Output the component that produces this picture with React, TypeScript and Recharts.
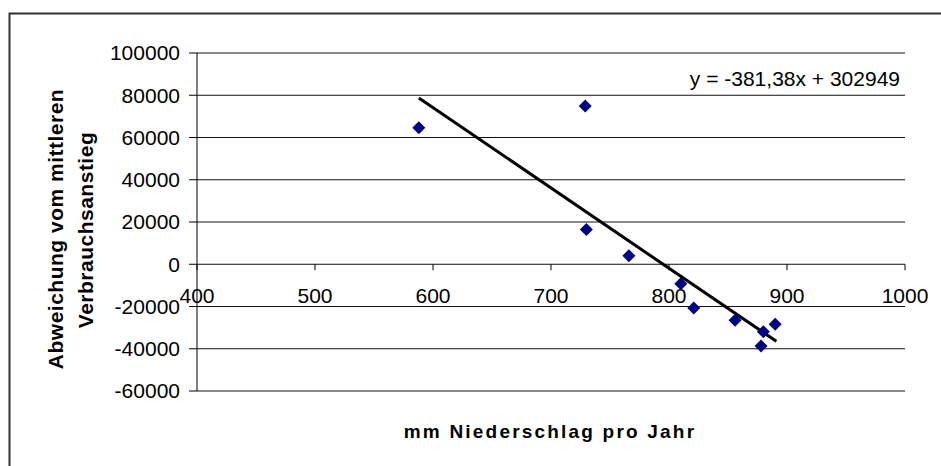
import React from 'react';
import { ScatterChart, Scatter, XAxis, YAxis, CartesianGrid, ReferenceDot } from 'recharts';

const precipitation = [588, 729, 730, 766, 810, 821, 856, 880, 878, 890];
const deviation = [64600, 74900, 16400, 4000, -9200, -20700, -26500, -32000, -38700, -28400];

const trendX = [588, 891];
const trendY = [78700, -36500];

const xTicks = [400, 500, 600, 700, 800, 900, 1000];
const yTicks = [-60000, -40000, -20000, 0, 20000, 40000, 60000, 80000, 100000];

const equationText = 'y = -381,38x + 302949';
const xTitle = 'mm Niederschlag pro Jahr';
const yTitle1 = 'Abweichung vom mittleren';
const yTitle2 = 'Verbrauchsanstieg';

const points = precipitation.map((x, i) => ({ x, y: deviation[i] }));
const trend = trendX.map((x, i) => ({ x, y: trendY[i] }));

const FONT = '"Liberation Sans", Arial, sans-serif';

const Diamond = (props: any) => {
  const { cx, cy } = props;
  if (cx == null || cy == null) return <g />;
  const r = 6.5;
  return (
    <polygon
      points={`${cx},${cy - r} ${cx + r},${cy} ${cx},${cy + r} ${cx - r},${cy}`}
      fill="#000080"
    />
  );
};

const makeXTick = (v: number) => (props: any) => {
  const { cx, cy } = props;
  if (cx == null || cy == null) return <g />;
  return (
    <g>
      <line x1={cx} y1={cy} x2={cx} y2={cy + 6} stroke="#000" strokeWidth={1} />
      <text x={cx} y={cy + 39} textAnchor="middle" fontSize={21} fontFamily={FONT} fill="#000">
        {v}
      </text>
    </g>
  );
};

export default function App() {
  return (
    <div style={{ position: 'absolute', left: 0, top: 0, width: 941, height: 466, background: '#fff' }}>
      <ScatterChart
        width={941}
        height={466}
        margin={{ top: 53, right: 36, bottom: 75, left: 97 }}
      >
        <CartesianGrid vertical={false} stroke="#111" strokeWidth={1} />
        <XAxis
          type="number"
          dataKey="x"
          domain={[400, 1000]}
          ticks={xTicks}
          hide
        />
        <YAxis
          type="number"
          dataKey="y"
          domain={[-60000, 100000]}
          ticks={yTicks}
          width={100}
          interval={0}
          tickSize={8}
          tickMargin={9}
          axisLine={{ stroke: '#000', strokeWidth: 1 }}
          tickLine={{ stroke: '#000', strokeWidth: 1 }}
          tick={{ fontSize: 21, fontFamily: FONT, fill: '#000' }}
        />
        {xTicks.map((v) => (
          <ReferenceDot key={v} x={v} y={0} r={0} ifOverflow="visible" shape={makeXTick(v)} />
        ))}
        <Scatter
          data={trend}
          line={{ stroke: '#000', strokeWidth: 3 }}
          lineType="joint"
          shape={() => <g />}
          isAnimationActive={false}
        />
        <Scatter data={points} shape={Diamond} isAnimationActive={false} />
      </ScatterChart>
      <svg
        width={941}
        height={466}
        style={{ position: 'absolute', left: 0, top: 0, pointerEvents: 'none' }}
      >
        <rect x={9.5} y={13.5} width={1000} height={1000} fill="none" stroke="#333" strokeWidth={2} />
        <text x={900} y={85.5} textAnchor="end" fontSize={21} fontFamily={FONT} fill="#000">
          {equationText}
        </text>
        <text
          x={550}
          y={438}
          textAnchor="middle"
          fontSize={19}
          fontWeight="bold"
          letterSpacing={2.2}
          fontFamily={FONT}
          fill="#000"
        >
          {xTitle}
        </text>
        <text
          transform="translate(63,229) rotate(-90)"
          textAnchor="middle"
          fontSize={21}
          fontWeight="bold"
          letterSpacing={0.5}
          fontFamily={FONT}
          fill="#000"
        >
          {yTitle1}
        </text>
        <text
          transform="translate(93,230) rotate(-90)"
          textAnchor="middle"
          fontSize={21}
          fontWeight="bold"
          letterSpacing={0.5}
          fontFamily={FONT}
          fill="#000"
        >
          {yTitle2}
        </text>
      </svg>
    </div>
  );
}
